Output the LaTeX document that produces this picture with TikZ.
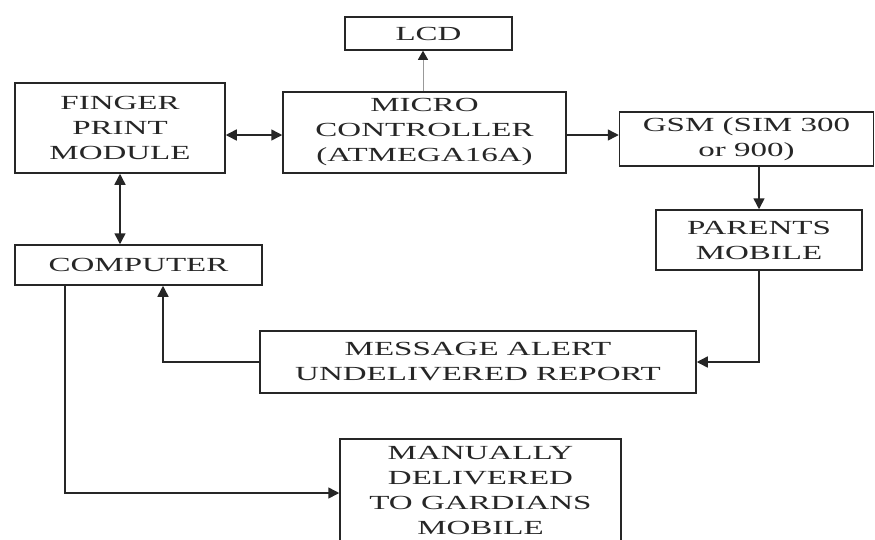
\documentclass[tikz,border=0pt]{standalone}
\usepackage{fontspec}
\setmainfont[FakeStretch=1.65]{Liberation Serif}
\usetikzlibrary{arrows.meta}
\begin{document}
\begin{tikzpicture}[x=1pt,y=-1pt,
  blk/.style={draw=black!85,line width=1.5pt,rectangle,inner sep=0pt,align=center,
    font=\fontsize{20pt}{25pt}\selectfont,text=black!85},
  tip/.style={Triangle[length=11pt,width=11pt]},
  conn/.style={draw=black!85,line width=1.5pt,-{Triangle[length=11pt,width=11pt]}},
  dconn/.style={draw=black!85,line width=1.5pt,{Triangle[length=11pt,width=11pt]}-{Triangle[length=11pt,width=11pt]}},
  lconn/.style={draw=black!40,line width=0.9pt,-{Triangle[length=9pt,width=10pt,color=black!85]}}]
\clip (0,0) rectangle (875,539);
\fill[white] (0,0) rectangle (875,539);
\node[blk,minimum width=167pt,minimum height=33pt] (lcd) at (428.5,33.5) {LCD};
\node[blk,minimum width=210pt,minimum height=90pt] (fp) at (120,128) {FINGER\\PRINT\\MODULE};
\node[blk,minimum width=283pt,minimum height=81pt] (mc) at (424.5,132.5) {MICRO\\CONTROLLER\\(ATMEGA16A)};
\node[blk,minimum width=254pt,minimum height=54pt] (gsm) at (746.5,139) {GSM (SIM 300\\or 900)};
\node[blk,minimum width=206pt,minimum height=60pt] (par) at (759,240) {PARENTS\\MOBILE};
\node[blk,minimum width=247pt,minimum height=40pt] (comp) at (138.5,265) {COMPUTER};
\node[blk,minimum width=436pt,minimum height=62pt] (msg) at (478,362) {MESSAGE ALERT\\UNDELIVERED REPORT};
\node[blk,minimum width=281pt,minimum height=102pt] (man) at (480.5,490) {MANUALLY\\DELIVERED\\TO GARDIANS\\MOBILE};
\coordinate (mcl) at ([yshift=-2.5pt]mc.west);
\coordinate (mcr) at ([yshift=-2.5pt]mc.east);
\draw[dconn] (fp.east |- mcl) -- (mcl);
\draw[lconn] ([xshift=-1.5pt]mc.north) -- ([xshift=-1.5pt]mc.north |- lcd.south);
\draw[conn] (mcr) -- (mcr -| gsm.west);
\draw[conn] (par.north |- gsm.south) -- (par.north);
\draw[dconn] (fp.south) -- (fp.south |- comp.north);
\draw[conn] (par.south) |- (msg.east);
\coordinate (cin) at ([xshift=24.5pt]comp.south);
\coordinate (cout) at ([xshift=-73.5pt]comp.south);
\draw[conn] (msg.west) -| (cin);
\draw[conn] (cout) |- ([yshift=-3pt]man.west);
\end{tikzpicture}
\end{document}
